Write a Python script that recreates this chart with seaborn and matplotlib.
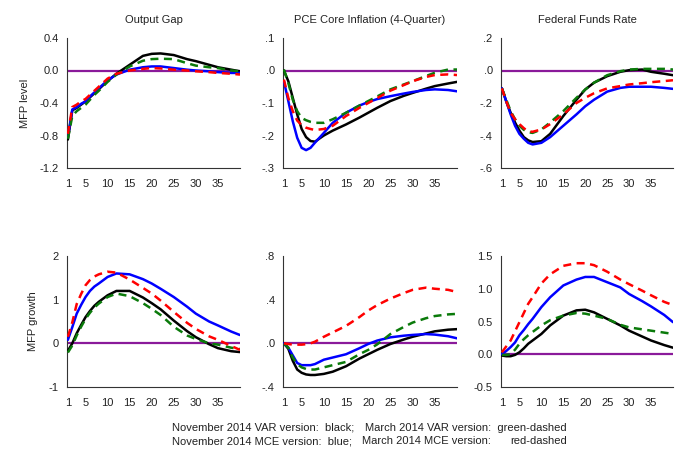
import numpy as np
import pandas as pd
import matplotlib
matplotlib.use("Agg")
import matplotlib.pyplot as plt
import seaborn as sns

# ---- data ----
quarters = [1, 2, 3, 4, 5, 6, 7, 8, 10, 12, 15, 18, 20, 22, 25, 28, 30, 33, 35, 38, 40]

# Output Gap, MFP level
og_lvl_black = [-0.85, -0.49, -0.46, -0.42, -0.38, -0.33, -0.28, -0.23, -0.13, -0.04, 0.07, 0.18, 0.205, 0.21, 0.19, 0.14, 0.115, 0.07, 0.04, 0.01, -0.01]
og_lvl_green = [-0.84, -0.56, -0.50, -0.46, -0.42, -0.36, -0.30, -0.25, -0.14, -0.05, 0.05, 0.12, 0.14, 0.145, 0.14, 0.09, 0.06, 0.04, 0.03, 0.0, -0.01]
og_lvl_blue = [-0.82, -0.48, -0.45, -0.41, -0.38, -0.32, -0.27, -0.22, -0.12, -0.05, 0.01, 0.04, 0.05, 0.05, 0.03, 0.01, 0.0, -0.01, -0.02, -0.03, -0.03]
og_lvl_red = [-0.78, -0.45, -0.42, -0.38, -0.35, -0.30, -0.25, -0.20, -0.10, -0.04, 0.0, 0.02, 0.03, 0.025, 0.01, 0.0, -0.01, -0.02, -0.03, -0.04, -0.05]

# PCE core inflation, MFP level
pce_lvl_black = [0.0, -0.033, -0.084, -0.135, -0.18, -0.205, -0.217, -0.219, -0.2, -0.185, -0.166, -0.145, -0.13, -0.115, -0.094, -0.078, -0.069, -0.056, -0.048, -0.04, -0.035]
pce_lvl_green = [0.003, -0.038, -0.09, -0.125, -0.146, -0.153, -0.158, -0.161, -0.161, -0.15, -0.13, -0.108, -0.094, -0.08, -0.058, -0.043, -0.033, -0.017, -0.007, 0.003, 0.003]
pce_lvl_blue = [-0.033, -0.094, -0.156, -0.207, -0.238, -0.245, -0.238, -0.222, -0.192, -0.161, -0.13, -0.108, -0.097, -0.088, -0.079, -0.071, -0.066, -0.06, -0.058, -0.06, -0.064]
pce_lvl_red = [-0.028, -0.084, -0.125, -0.154, -0.168, -0.176, -0.18, -0.183, -0.18, -0.17, -0.14, -0.115, -0.1, -0.085, -0.062, -0.045, -0.033, -0.02, -0.014, -0.012, -0.014]

# Federal funds rate, MFP level
ffr_lvl_black = [-0.11, -0.19, -0.26, -0.32, -0.37, -0.41, -0.43, -0.44, -0.435, -0.39, -0.28, -0.18, -0.117, -0.075, -0.035, -0.008, 0.002, 0.006, -0.008, -0.02, -0.029]
ffr_lvl_green = [-0.11, -0.18, -0.25, -0.30, -0.34, -0.365, -0.38, -0.384, -0.363, -0.32, -0.25, -0.168, -0.117, -0.075, -0.029, -0.004, 0.006, 0.01, 0.01, 0.01, 0.006]
ffr_lvl_blue = [-0.11, -0.19, -0.27, -0.34, -0.39, -0.42, -0.445, -0.455, -0.445, -0.41, -0.34, -0.27, -0.22, -0.18, -0.13, -0.107, -0.1, -0.1, -0.1, -0.107, -0.113]
ffr_lvl_red = [-0.11, -0.19, -0.26, -0.30, -0.33, -0.355, -0.375, -0.377, -0.363, -0.33, -0.27, -0.2, -0.168, -0.14, -0.11, -0.096, -0.086, -0.078, -0.072, -0.065, -0.06]

# Output Gap, MFP growth
og_gr_black = [-0.17, 0.0, 0.23, 0.42, 0.6, 0.74, 0.86, 0.95, 1.1, 1.2, 1.2, 1.05, 0.92, 0.78, 0.52, 0.28, 0.14, -0.02, -0.11, -0.18, -0.2]
og_gr_green = [-0.21, -0.05, 0.18, 0.38, 0.56, 0.70, 0.82, 0.91, 1.06, 1.14, 1.08, 0.92, 0.79, 0.65, 0.38, 0.18, 0.1, 0.0, -0.03, -0.1, -0.13]
og_gr_blue = [0.08, 0.37, 0.68, 0.88, 1.06, 1.2, 1.3, 1.37, 1.52, 1.6, 1.58, 1.47, 1.37, 1.25, 1.06, 0.84, 0.68, 0.5, 0.41, 0.27, 0.19]
og_gr_red = [0.15, 0.48, 0.9, 1.13, 1.33, 1.45, 1.53, 1.58, 1.64, 1.62, 1.46, 1.27, 1.14, 0.98, 0.72, 0.47, 0.33, 0.16, 0.08, -0.06, -0.15]

# PCE core inflation, MFP growth
pce_gr_black = [0.0, -0.05, -0.16, -0.24, -0.27, -0.285, -0.29, -0.29, -0.28, -0.26, -0.21, -0.14, -0.1, -0.06, -0.006, 0.035, 0.06, 0.09, 0.11, 0.125, 0.13]
pce_gr_green = [0.0, -0.04, -0.13, -0.19, -0.22, -0.235, -0.24, -0.24, -0.22, -0.2, -0.17, -0.1, -0.06, -0.01, 0.085, 0.15, 0.19, 0.23, 0.25, 0.265, 0.27]
pce_gr_blue = [0.0, -0.04, -0.11, -0.18, -0.2, -0.2, -0.2, -0.19, -0.15, -0.13, -0.1, -0.045, -0.006, 0.025, 0.055, 0.07, 0.077, 0.085, 0.08, 0.065, 0.046]
pce_gr_red = [0.0, -0.006, -0.012, -0.012, -0.012, -0.008, 0.0, 0.015, 0.06, 0.1, 0.16, 0.24, 0.3, 0.35, 0.41, 0.46, 0.49, 0.51, 0.5, 0.49, 0.47]

# Federal funds rate, MFP growth
ffr_gr_black = [-0.02, -0.03, -0.03, -0.01, 0.03, 0.09, 0.16, 0.21, 0.31, 0.44, 0.59, 0.67, 0.68, 0.64, 0.54, 0.44, 0.36, 0.27, 0.21, 0.14, 0.1]
ffr_gr_green = [-0.01, -0.01, 0.0, 0.07, 0.16, 0.23, 0.29, 0.34, 0.44, 0.52, 0.59, 0.63, 0.62, 0.59, 0.54, 0.45, 0.41, 0.38, 0.36, 0.33, 0.31]
ffr_gr_blue = [0.0, 0.05, 0.11, 0.18, 0.29, 0.37, 0.46, 0.54, 0.72, 0.87, 1.05, 1.14, 1.18, 1.18, 1.1, 1.02, 0.92, 0.81, 0.73, 0.6, 0.49]
ffr_gr_red = [0.03, 0.12, 0.21, 0.35, 0.49, 0.63, 0.77, 0.87, 1.08, 1.22, 1.35, 1.39, 1.39, 1.36, 1.26, 1.14, 1.07, 0.97, 0.9, 0.8, 0.75]

titles = ["Output Gap", "PCE Core Inflation (4-Quarter)", "Federal Funds Rate"]
row_labels = ["MFP level", "MFP growth"]
x_ticks = [1, 5, 10, 15, 20, 25, 30, 35]

y_ticks = [
    [0.4, 0.0, -0.4, -0.8, -1.2], [0.1, 0.0, -0.1, -0.2, -0.3], [0.2, 0.0, -0.2, -0.4, -0.6],
    [2, 1, 0, -1], [0.8, 0.4, 0.0, -0.4], [1.5, 1.0, 0.5, 0.0, -0.5],
]
y_ticklabels = [
    ["0.4", "0.0", "-0.4", "-0.8", "-1.2"], [".1", ".0", "-.1", "-.2", "-.3"], [".2", ".0", "-.2", "-.4", "-.6"],
    ["2", "1", "0", "-1"], [".8", ".4", ".0", "-.4"], ["1.5", "1.0", "0.5", "0.0", "-0.5"],
]

panels = [
    (og_lvl_black, og_lvl_green, og_lvl_blue, og_lvl_red),
    (pce_lvl_black, pce_lvl_green, pce_lvl_blue, pce_lvl_red),
    (ffr_lvl_black, ffr_lvl_green, ffr_lvl_blue, ffr_lvl_red),
    (og_gr_black, og_gr_green, og_gr_blue, og_gr_red),
    (pce_gr_black, pce_gr_green, pce_gr_blue, pce_gr_red),
    (ffr_gr_black, ffr_gr_green, ffr_gr_blue, ffr_gr_red),
]
series_names = ["Nov VAR", "Mar VAR", "Nov MCE", "Mar MCE"]

footer_line1 = ["November 2014 VAR version:  black;", "March 2014 VAR version:  green-dashed"]
footer_line2 = ["November 2014 MCE version:  blue;", "March 2014 MCE version:", "red-dashed"]

# ---- style ----
sns.set_style("white")
plt.rcParams["font.family"] = ["Liberation Sans", "DejaVu Sans"]

colors = {"Nov VAR": "black", "Mar VAR": "#0a7a0a", "Nov MCE": "#0000ff", "Mar MCE": "#ff0000"}
dashes = {"Nov VAR": "-", "Mar VAR": (0, (3.2, 2.2)), "Nov MCE": "-", "Mar MCE": (0, (3.2, 2.2))}
draw_order = ["Nov VAR", "Nov MCE", "Mar VAR", "Mar MCE"]

fig = plt.figure(figsize=(7.0, 4.67), dpi=100)
W, H = 700, 467
lefts = [67, 283, 501]
rights = [240, 457, 673]
tops = [38, 256]
bottoms = [168, 387]

axes = []
for r in range(2):
    for c in range(3):
        ax = fig.add_axes([lefts[c] / W, 1 - bottoms[r] / H,
                           (rights[c] - lefts[c]) / W, (bottoms[r] - tops[r]) / H])
        axes.append(ax)

for i, ax in enumerate(axes):
    vals = panels[i]
    df = pd.DataFrame({"quarter": np.tile(quarters, 4),
                       "value": np.concatenate(vals),
                       "series": np.repeat(series_names, len(quarters))})
    ax.plot([1, 40], [0, 0], color="#8a1a9a", lw=1.6, zorder=1)
    for s in draw_order:
        sns.lineplot(data=df[df["series"] == s], x="quarter", y="value", ax=ax,
                     color=colors[s], linestyle=dashes[s], lw=1.8, legend=False, zorder=3)
    yt = y_ticks[i]
    ax.set_ylim(min(yt), max(yt))
    ax.set_yticks(yt)
    ax.set_yticklabels(y_ticklabels[i])
    ax.set_xlim(0.8, 40)
    ax.set_xticks(x_ticks)
    ax.set_xticklabels([str(t) for t in x_ticks])
    ax.set_xlabel("")
    ax.set_ylabel("")
    for sp in ["top", "right"]:
        ax.spines[sp].set_visible(False)
    for sp in ["left", "bottom"]:
        ax.spines[sp].set_color("#333333")
        ax.spines[sp].set_linewidth(0.8)
    ax.tick_params(axis="both", direction="out", length=4, width=0.8, color="#333333",
                   labelsize=8, labelcolor="#222222", pad=2)
    ax.tick_params(axis="x", pad=4)
    ax.set_facecolor("white")
    if i < 3:
        ax.set_title(titles[i], fontsize=8, color="#222222", pad=11)

fig.text(25 / W, 1 - 103 / H, row_labels[0], rotation=90, ha="center", va="center", fontsize=8, color="#222222")
fig.text(33 / W, 1 - 321 / H, row_labels[1], rotation=90, ha="center", va="center", fontsize=8, color="#222222")

fs = 8
fc = "#222222"
fig.text(172 / W, 1 - 428 / H, footer_line1[0], ha="left", va="center", fontsize=fs, color=fc)
fig.text(567 / W, 1 - 428 / H, footer_line1[1], ha="right", va="center", fontsize=fs, color=fc)
fig.text(172 / W, 1 - 441 / H, footer_line2[0], ha="left", va="center", fontsize=fs, color=fc)
fig.text(362 / W, 1 - 441 / H, footer_line2[1], ha="left", va="center", fontsize=fs, color=fc)
fig.text(567 / W, 1 - 441 / H, footer_line2[2], ha="right", va="center", fontsize=fs, color=fc)

fig.savefig("out.png", dpi=100, facecolor="white")
